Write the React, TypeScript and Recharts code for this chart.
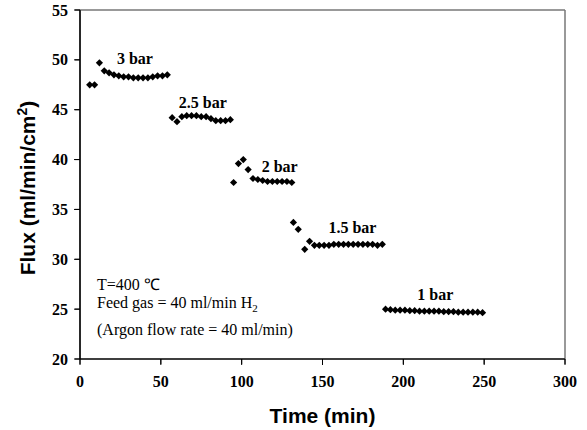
import React from 'react';
import { ScatterChart, Scatter, XAxis, YAxis, ReferenceDot } from 'recharts';

const xTicks = [0, 50, 100, 150, 200, 250, 300];
const yTicks = [20, 25, 30, 35, 40, 45, 50, 55];

// 3 bar (incl. initial points)
const time3 = [6, 9, 12, 15, 18, 21, 24, 27, 30, 33, 36, 39, 42, 45, 48, 51, 54];
const flux3 = [47.5, 47.5, 49.7, 48.9, 48.7, 48.5, 48.4, 48.3, 48.3, 48.2, 48.2, 48.2, 48.2, 48.3, 48.4, 48.4, 48.5];
// 2.5 bar
const time25 = [57, 60, 63, 66, 69, 72, 75, 78, 81, 84, 87, 90, 93];
const flux25 = [44.2, 43.8, 44.3, 44.4, 44.4, 44.4, 44.3, 44.3, 44.1, 43.9, 43.9, 43.9, 44.0];
// 2 bar
const time2 = [95, 98, 101, 104, 107, 110, 113, 116, 119, 122, 125, 128, 131];
const flux2 = [37.7, 39.6, 40.0, 39.0, 38.1, 38.0, 37.9, 37.8, 37.8, 37.8, 37.8, 37.8, 37.7];
// 1.5 bar
const time15 = [132, 135, 139, 142, 145, 148, 151, 154, 157, 160, 163, 166, 169, 172, 175, 178, 181, 184, 187];
const flux15 = [33.7, 33.0, 31.0, 31.8, 31.4, 31.4, 31.4, 31.4, 31.5, 31.5, 31.5, 31.5, 31.5, 31.5, 31.5, 31.5, 31.5, 31.4, 31.5];
// 1 bar
const time1 = [189, 192, 195, 198, 201, 204, 207, 210, 213, 216, 219, 222, 225, 228, 231, 234, 237, 240, 243, 246, 249];
const flux1 = [25.0, 24.95, 24.9, 24.9, 24.9, 24.85, 24.85, 24.8, 24.8, 24.8, 24.8, 24.8, 24.75, 24.75, 24.75, 24.7, 24.7, 24.7, 24.7, 24.7, 24.65];

const pressureLabels = ['3 bar', '2.5 bar', '2 bar', '1.5 bar', '1 bar'];
const pressureLabelT = [34, 76, 123.5, 168.5, 219.8];
const pressureLabelF = [50.2, 45.7, 39.3, 33.2, 26.45];

const toData = (ts: number[], fs: number[]) => ts.map((t, i) => ({ t, f: fs[i] }));

const series = [
  toData(time3, flux3),
  toData(time25, flux25),
  toData(time2, flux2),
  toData(time15, flux15),
  toData(time1, flux1),
];

const SERIF = '"Liberation Serif", "Times New Roman", Times, serif';
const SANS = '"Liberation Sans", Arial, Helvetica, sans-serif';

// plot frame (layout)
const PL = 80, PR = 565, PT = 10, PB = 359;
const X_MAX = 300, Y_MIN = 20, Y_MAX = 55;

const Diamond = (props: any) => {
  const { cx, cy } = props;
  const r = 3.6;
  return <path d={`M${cx},${cy - r}L${cx + r},${cy}L${cx},${cy + r}L${cx - r},${cy}Z`} fill="#000" />;
};

const XTick = (props: any) => {
  const { x, y, payload } = props;
  return (
    <text x={x} y={y + 20} textAnchor="middle" fontFamily={SERIF} fontWeight="bold" fontSize={16} fill="#000">
      {payload.value}
    </text>
  );
};

const YTick = (props: any) => {
  const { x, y, payload } = props;
  return (
    <text x={x - 4} y={y + 5.5} textAnchor="end" fontFamily={SERIF} fontWeight="bold" fontSize={16} fill="#000">
      {payload.value}
    </text>
  );
};

export default function App() {
  return (
    <div style={{ position: 'absolute', left: 0, top: 0, width: 587, height: 430, background: '#fff' }}>
      <ScatterChart width={587} height={430} margin={{ top: PT, right: 587 - PR, bottom: 430 - PB - 30, left: 0 }}>
        <XAxis
          type="number"
          dataKey="t"
          domain={[0, X_MAX]}
          ticks={xTicks}
          height={30}
          stroke="#000"
          axisLine={{ stroke: '#000', strokeWidth: 1.2 }}
          tickLine={{ stroke: '#000' }}
          tick={<XTick />}
        />
        <YAxis
          type="number"
          dataKey="f"
          domain={[Y_MIN, Y_MAX]}
          ticks={yTicks}
          width={PL}
          stroke="#000"
          axisLine={{ stroke: '#000', strokeWidth: 1.2 }}
          tickLine={{ stroke: '#000' }}
          tick={<YTick />}
        />
        {series.map((d, i) => (
          <Scatter key={i} data={d} shape={Diamond} isAnimationActive={false} />
        ))}
        {pressureLabels.map((lab, i) => (
          <ReferenceDot
            key={lab}
            x={pressureLabelT[i]}
            y={pressureLabelF[i]}
            r={0}
            stroke="none"
            fill="none"
            label={{ value: lab, position: 'center', fill: '#000', fontFamily: SERIF, fontWeight: 'bold', fontSize: 16 }}
          />
        ))}
      </ScatterChart>
      <svg width={587} height={430} style={{ position: 'absolute', left: 0, top: 0, pointerEvents: 'none' }}>
        <line x1={PL} y1={PT} x2={PR} y2={PT} stroke="#777" strokeWidth={1.5} />
        <line x1={PR} y1={PT} x2={PR} y2={PB} stroke="#777" strokeWidth={1.5} />
        <line x1={PL} y1={PT} x2={PL} y2={PB} stroke="#000" strokeWidth={1.2} />
        <line x1={PL} y1={PB} x2={PR} y2={PB} stroke="#000" strokeWidth={1.2} />
        {xTicks.map((t) => {
          const x = PL + (t / X_MAX) * (PR - PL);
          return <line key={'xt' + t} x1={x} y1={PB} x2={x} y2={PB + 5} stroke="#000" strokeWidth={1} />;
        })}
        {yTicks.map((v) => {
          const y = PB - ((v - Y_MIN) / (Y_MAX - Y_MIN)) * (PB - PT);
          return <line key={'yt' + v} x1={PL - 5} y1={y} x2={PL} y2={y} stroke="#000" strokeWidth={1} />;
        })}
        <text x={322.5} y={423} textAnchor="middle" fontFamily={SANS} fontWeight="bold" fontSize={21} fill="#000">
          Time (min)
        </text>
        <text x={35} y={188} transform="rotate(-90, 35, 188)" textAnchor="middle" fontFamily={SANS} fontWeight="bold" fontSize={21} fill="#000">
          <tspan>Flux (ml/min/cm</tspan>
          <tspan dy={-8} fontSize={14}>2</tspan>
          <tspan dy={8}>)</tspan>
        </text>
        <text x={97} y={290} fontFamily={SERIF} fontSize={16} fill="#000">T=400 ℃</text>
        <text x={97} y={308} fontFamily={SERIF} fontSize={16} fill="#000">
          <tspan>Feed gas = 40 ml/min H</tspan>
          <tspan dy={4} fontSize={11}>2</tspan>
        </text>
        <text x={97} y={335} fontFamily={SERIF} fontSize={16} fill="#000">(Argon flow rate = 40 ml/min)</text>
      </svg>
    </div>
  );
}
